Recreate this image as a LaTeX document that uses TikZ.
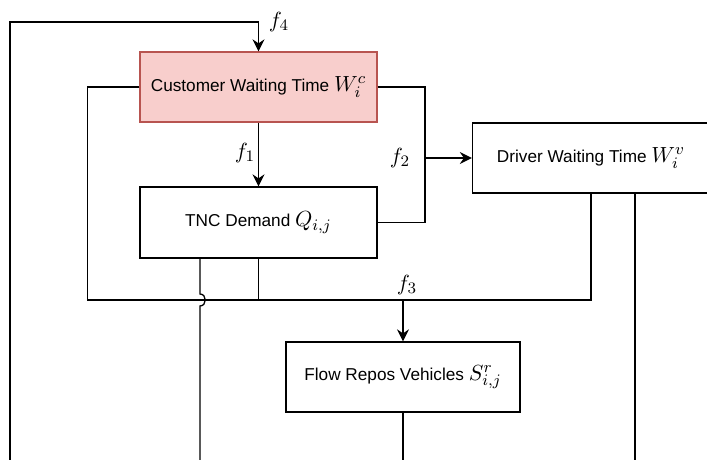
\documentclass[tikz,border=0pt]{standalone}
\usepackage[no-math]{fontspec}
\setmainfont{Liberation Sans}
\usetikzlibrary{arrows.meta}
\definecolor{boxred}{HTML}{B85450}
\definecolor{boxpink}{HTML}{F8CECC}
\tikzset{
  block/.style={draw, line width=0.65pt, minimum width=118.5pt, minimum height=35pt, inner sep=0pt, font=\fontsize{8.6}{10}\selectfont},
  link/.style={line width=0.65pt},
  flow/.style={link, -{Stealth[length=6pt, width=6pt, inset=2pt]}},
}
\newcommand{\mth}[1]{{\fontsize{11}{13}\selectfont$#1$}}

\begin{document}
\begin{tikzpicture}[x=0.5pt, y=-0.5pt]
\useasboundingbox (0,0) rectangle (707,460);
\node[block, draw=boxred, fill=boxpink] (cwt) at (258.5,87) {Customer Waiting Time \mth{W_i^c}};
\node[block, minimum height=35.5pt] (tnc) at (258.5,222.5) {TNC Demand \mth{Q_{i,j}}};
\node[block] (dwt) at (591,158) {Driver Waiting Time \mth{W_i^v}};
\node[block, minimum width=117pt] (frv) at (403,377) {Flow Repos Vehicles \mth{S^r_{i,j}}};
%Points
\coordinate (bot) at (0,460);
\coordinate (lt) at (10,22);
\coordinate (br) at (425,158);
\coordinate (jn) at (403,300);
\coordinate (hop) at (200,300);
%Links
\draw[flow] (lt |- bot) -- (lt) -| (cwt.north);
\draw[flow] (cwt.south) -- (tnc.north);
\draw[link] (cwt.east) -- (cwt.east -| br) -- (tnc.east -| br) -- (tnc.east);
\draw[flow] (br) -- (dwt.west);
\draw[link] (cwt.west) -- ++(-52,0) |- (jn);
\draw[link] (dwt.south) |- (jn);
\draw[link] (tnc.south) -- (tnc.south |- jn);
\draw[flow] (jn) -- (frv.north);
\draw[link] (frv.south) -- (frv.south |- bot);
\draw[link] ([xshift=22pt]dwt.south) -- ([xshift=22pt]dwt.south |- bot);
\draw[link] (hop |- tnc.south) -- ([yshift=3pt]hop) .. controls ([xshift=3.5pt, yshift=3pt]hop) and ([xshift=3.5pt, yshift=-3pt]hop) .. ([yshift=-3pt]hop) -- (hop |- bot);
%Text
\node (f1) at (245,153) {\mth{f_1}};
\node (f2) at (400,158) {\mth{f_2}};
\node (f3) at (407,285) {\mth{f_3}};
\node (f4) at (279,22) {\mth{f_4}};
\end{tikzpicture}
\end{document}
